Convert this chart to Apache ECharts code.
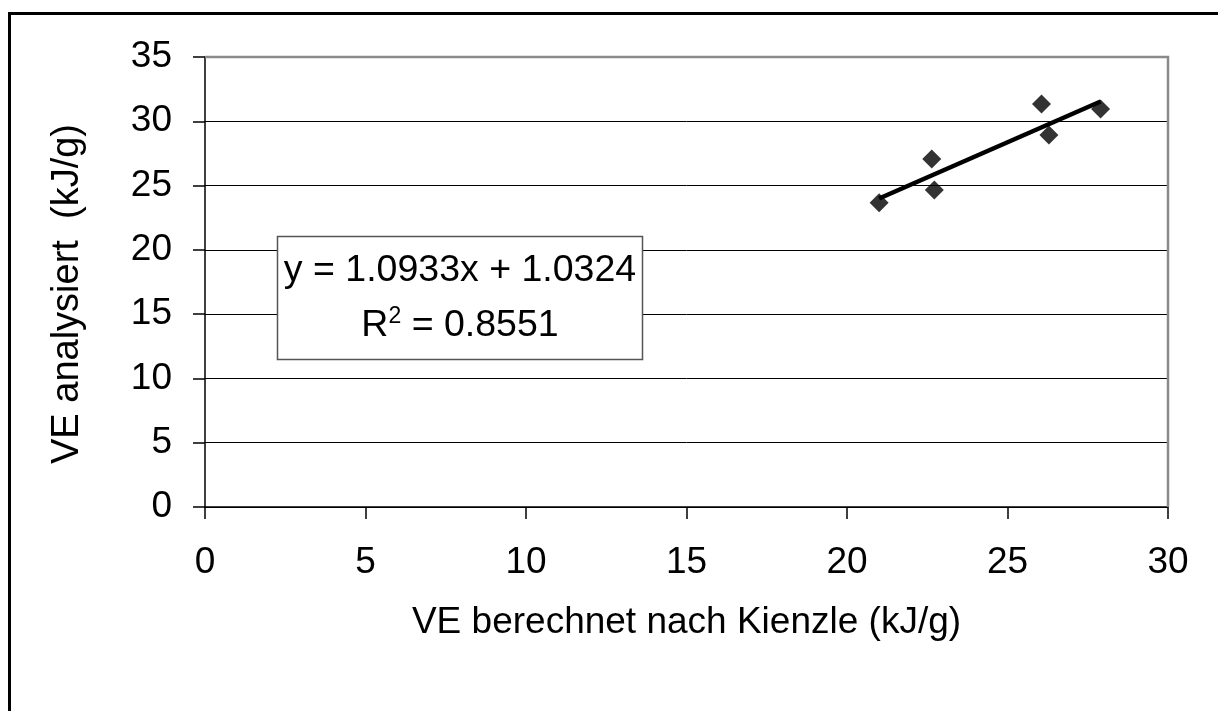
<!DOCTYPE html>
<html>
<head>
<meta charset="utf-8">
<script src="https://cdn.jsdelivr.net/npm/echarts@6/dist/echarts.min.js"></script>
<style>
html,body{margin:0;padding:0;background:#fff;}
#c{width:1218px;height:711px;}
</style>
</head>
<body>
<div id="c"></div>
<script>
// Data
const xValues = [21.0, 22.64, 22.72, 26.06, 26.29, 27.90];
const yValues = [23.67, 27.07, 24.66, 31.34, 28.93, 30.96];
const trendSlope = 1.0933;
const trendIntercept = 1.0324;
const rSquared = 0.8551;
const xAxisTicks = [0, 5, 10, 15, 20, 25, 30];
const yAxisTicks = [0, 5, 10, 15, 20, 25, 30, 35];
const xTitle = 'VE berechnet nach Kienzle (kJ/g)';
const yTitle = 'VE analysiert  (kJ/g)';

const points = xValues.map((x, i) => [x, yValues[i]]);
const xMin = Math.min(...xValues), xMax = Math.max(...xValues);
const trendPoints = [
  [xMin, trendSlope * xMin + trendIntercept],
  [xMax, trendSlope * xMax + trendIntercept]
];

const FONT = '"Liberation Sans", Arial, sans-serif';
const FS = 37;
const chart = echarts.init(document.getElementById('c'), null, {renderer: 'canvas'});
chart.setOption({
  animation: false,
  backgroundColor: '#fff',
  grid: {left: 205, right: 50, top: 57, bottom: 204, show: false},
  xAxis: {
    type: 'value', min: xAxisTicks[0], max: xAxisTicks[xAxisTicks.length - 1], interval: 5,
    name: xTitle, nameLocation: 'middle', nameGap: 97,
    nameTextStyle: {fontFamily: FONT, fontSize: FS, color: '#000'},
    axisLine: {show: true, onZero: false, lineStyle: {color: '#000', width: 1.5}},
    axisTick: {show: true, inside: false, length: 12, lineStyle: {color: '#000', width: 1.5}},
    axisLabel: {fontFamily: FONT, fontSize: FS, color: '#000', margin: 37},
    splitLine: {show: false}
  },
  yAxis: {
    type: 'value', min: yAxisTicks[0], max: yAxisTicks[yAxisTicks.length - 1], interval: 5,
    axisLine: {show: true, onZero: false, lineStyle: {color: '#000', width: 1.5}},
    axisTick: {show: true, inside: false, length: 12, lineStyle: {color: '#000', width: 1.5}},
    axisLabel: {fontFamily: FONT, fontSize: FS, color: '#000', margin: 33},
    splitLine: {show: true, lineStyle: {color: '#000', width: 1}}
  },
  graphic: [
    // outer chart border
    {type: 'rect', shape: {x: 9.5, y: 13.5, width: 1240, height: 740}, style: {fill: 'none', stroke: '#000', lineWidth: 3}, z: 0},
    // plot area top/right border
    {type: 'polyline', shape: {points: [[205, 57], [1168, 57], [1168, 507]]}, style: {fill: 'none', stroke: '#8a8a8a', lineWidth: 2.5}, z: 5},
    // y axis title
    {type: 'text', x: 68, y: 294, rotation: Math.PI / 2, z: 10,
      style: {text: yTitle, font: '38px ' + FONT, fill: '#000', textAlign: 'center', textVerticalAlign: 'middle'}},
    // equation box
    {type: 'rect', shape: {x: 277.5, y: 236.5, width: 365, height: 123}, style: {fill: '#fff', stroke: '#555', lineWidth: 1.5}, z: 20},
    {type: 'text', x: 460, y: 271, z: 21,
      style: {text: 'y = ' + trendSlope.toFixed(4) + 'x + ' + trendIntercept.toFixed(4), font: '37.5px ' + FONT, fill: '#000', textAlign: 'center', textVerticalAlign: 'middle'}},
    {type: 'text', x: 460, y: 326, z: 21,
      style: {text: '{a|R}{s|2}{a| = ' + rSquared.toFixed(4) + '}', textAlign: 'center', textVerticalAlign: 'middle',
        rich: {
          a: {fontFamily: FONT, fontSize: 37.5, fill: '#000', color: '#000', lineHeight: 42},
          s: {fontFamily: FONT, fontSize: 23, fill: '#000', color: '#000', verticalAlign: 'top', lineHeight: 42, padding: [0, 0, 20, 0]}
        }}}
  ],
  series: [
    {
      type: 'line', data: trendPoints, symbol: 'none', silent: true,
      lineStyle: {color: '#000', width: 4.5}, z: 3
    },
    {
      type: 'scatter', data: points, symbol: 'diamond', symbolSize: 19,
      itemStyle: {color: '#000'}, z: 4
    }
  ]
});
</script>
</body>
</html>
